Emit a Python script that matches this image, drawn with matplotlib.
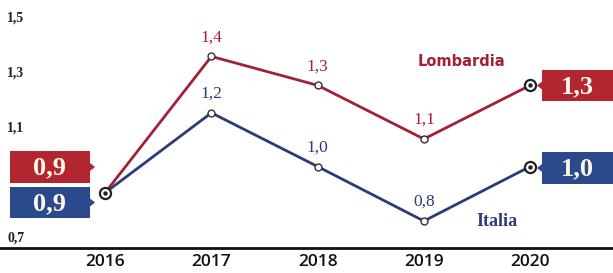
import matplotlib
matplotlib.use("Agg")
import matplotlib.pyplot as plt
from matplotlib.patches import FancyBboxPatch, Polygon

years = [2016, 2017, 2018, 2019, 2020]
lombardia = [0.865, 1.36, 1.255, 1.06, 1.255]
italia = [0.865, 1.155, 0.96, 0.762, 0.96]
lomb_labels = ["0,9", "1,4", "1,3", "1,1", "1,3"]
ital_labels = ["0,9", "1,2", "1,0", "0,8", "1,0"]
yticks = [0.7, 1.1, 1.3, 1.5]
ytick_labels = ["0,7", "1,1", "1,3", "1,5"]

RED = "#b2262f"
BLUE = "#2b4a8c"
LRED = "#a32035"
LBLUE = "#2c3a7a"

W, H = 613, 273
fig = plt.figure(figsize=(W / 100, H / 100), dpi=100)
ax = fig.add_axes([0, 25 / H, 1, 1 - 25 / H])
ax.set_xlim(2015.01, 2020.78)
ax.set_ylim(0.664, 1.565)
for s in ["top", "right", "left"]:
    ax.spines[s].set_visible(False)
ax.spines["bottom"].set_linewidth(2)
ax.spines["bottom"].set_color("#111111")
ax.set_yticks([])
ax.set_xticks(years)
ax.set_xticklabels([str(y) for y in years], fontsize=12.5, fontweight="semibold",
                   family="Open Sans", color="#111111")
ax.tick_params(axis="x", length=0, pad=4)

# y tick labels drawn inside
for v, lab in zip(yticks, ytick_labels):
    ax.text(0.012, v, lab, transform=ax.get_yaxis_transform(), fontsize=10,
            fontweight="bold", family="Liberation Serif", color="#222222",
            ha="left", va="center")

ax.plot(years, lombardia, color=LRED, lw=2, zorder=3)
ax.plot(years, italia, color=LBLUE, lw=2, zorder=3)
ax.plot(years[1:4], lombardia[1:4], ls="none", marker="o", ms=5, mfc="white",
        mec="#333333", mew=1, zorder=4)
ax.plot(years[1:4], italia[1:4], ls="none", marker="o", ms=5, mfc="white",
        mec="#333333", mew=1, zorder=4)
for xs, ys in [([years[0]], [lombardia[0]]), ([years[-1]], [lombardia[-1]]),
               ([years[-1]], [italia[-1]])]:
    ax.plot(xs, ys, ls="none", marker="o", ms=8, mfc="white", mec="#222222",
            mew=1.6, zorder=5)
    ax.plot(xs, ys, ls="none", marker="o", ms=2.2, color="#222222", zorder=6)

# value labels
for i in range(1, 4):
    ax.annotate(lomb_labels[i], (years[i], lombardia[i]), xytext=(0, 8),
                textcoords="offset points", ha="center", va="bottom", fontsize=12.5,
                family="Liberation Serif", color=LRED)
    ax.annotate(ital_labels[i], (years[i], italia[i]), xytext=(0, 8),
                textcoords="offset points", ha="center", va="bottom", fontsize=12.5,
                family="Liberation Serif", color=LBLUE)

def px(x, y):
    return x / W, 1 - y / H

def box(x0, y0, x1, y1, color, text, arrow_left):
    a0 = px(x0, y1)
    a1 = px(x1, y0)
    r = FancyBboxPatch(a0, a1[0] - a0[0], a1[1] - a0[1], boxstyle="square,pad=0",
                       transform=fig.transFigure, facecolor=color, edgecolor="none",
                       zorder=6)
    fig.patches.append(r)
    ym = (y0 + y1) / 2
    if arrow_left:
        tri = [px(x0, ym - 4), px(x0 - 5, ym), px(x0, ym + 4)]
    else:
        tri = [px(x1, ym - 4), px(x1 + 5, ym), px(x1, ym + 4)]
    fig.patches.append(Polygon(tri, closed=True, transform=fig.transFigure,
                               facecolor=color, edgecolor="none"))
    cx, cy = px((x0 + x1) / 2, ym + 1)
    fig.text(cx, cy, text, ha="center", va="center", fontsize=19,
             family="Liberation Serif", color="#fff8ea", fontweight="bold", zorder=7)

box(10, 151, 90, 183, RED, lomb_labels[0], False)
box(10, 187, 90, 218, BLUE, ital_labels[0], False)
box(542, 70, 613, 101, RED, lomb_labels[-1], True)
box(542, 152, 613, 184, BLUE, ital_labels[-1], True)

fig.text(461 / W, 1 - 62 / H, "Lombardia", ha="center", va="center", fontsize=10.5,
         fontweight="bold", family="Liberation Sans Narrow", color=LRED)
fig.text(497 / W, 1 - 222 / H, "Italia", ha="center", va="center", fontsize=13,
         fontweight="bold", family="Liberation Serif", color=LBLUE)

fig.savefig("out.png", dpi=100)
